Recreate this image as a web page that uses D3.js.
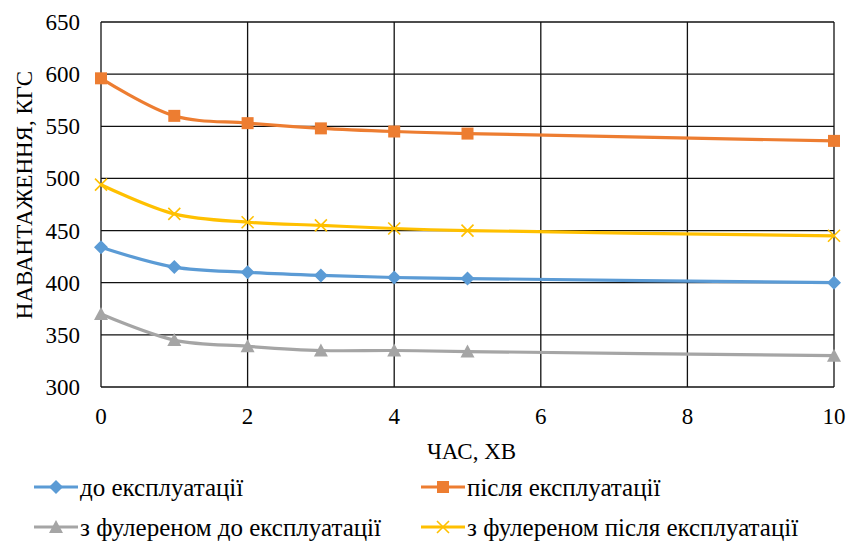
<!DOCTYPE html>
<html>
<head>
<meta charset="utf-8">
<script src="https://cdn.jsdelivr.net/npm/d3@7"></script>
</head>
<body style="margin:0">
<svg id="chart" width="852" height="542" style="font-family: 'Liberation Serif', serif"></svg>
<script>
// data
const times = [0, 1, 2, 3, 4, 5, 10];
const beforeUse = [434, 415, 410, 407, 405, 404, 400];
const afterUse = [596, 560, 553, 548, 545, 543, 536];
const fullBefore = [370, 345, 339, 335, 335, 334, 330];
const fullAfter = [494, 466, 458, 455, 452, 450, 445];
const xTicks = [0, 2, 4, 6, 8, 10];
const yTicks = [300, 350, 400, 450, 500, 550, 600, 650];

const series = [
  { name: "до експлуатації", values: beforeUse, color: "#5B9BD5", marker: "diamond" },
  { name: "після експлуатації", values: afterUse, color: "#ED7D31", marker: "square" },
  { name: "з фулереном до експлуатації", values: fullBefore, color: "#A5A5A5", marker: "triangle" },
  { name: "з фулереном після експлуатації", values: fullAfter, color: "#FFC000", marker: "cross" }
];

const FONT = "'Liberation Serif', serif";
const svg = d3.select("#chart");
const m = { left: 101, top: 22, right: 18, bottom: 155 };
const W = 852, H = 542;
const chartW = W - m.left - m.right, chartH = H - m.top - m.bottom;

const x = d3.scaleLinear().domain([0, 10]).range([0, chartW]);
const y = d3.scaleLinear().domain([300, 650]).range([chartH, 0]);

const g = svg.append("g").attr("transform", `translate(${m.left},${m.top})`);

// gridlines
g.append("g").selectAll("line").data(yTicks).enter().append("line")
  .attr("x1", 0).attr("x2", chartW).attr("y1", d => y(d)).attr("y2", d => y(d))
  .attr("stroke", "#111").attr("stroke-width", 1.3);
g.append("g").selectAll("line").data(xTicks).enter().append("line")
  .attr("y1", 0).attr("y2", chartH).attr("x1", d => x(d)).attr("x2", d => x(d))
  .attr("stroke", "#111").attr("stroke-width", 1.3);

// tick labels
g.append("g").selectAll("text").data(yTicks).enter().append("text")
  .attr("x", -21).attr("y", d => y(d)).attr("dy", "0.35em")
  .attr("text-anchor", "end").style("font-family", FONT).style("font-size", "23px").text(d => d);
g.append("g").selectAll("text").data(xTicks).enter().append("text")
  .attr("x", d => x(d)).attr("y", chartH + 37)
  .attr("text-anchor", "middle").style("font-family", FONT).style("font-size", "23px").text(d => d);

// axis titles
g.append("text").attr("x", chartW / 2 + 4).attr("y", chartH + 72)
  .attr("text-anchor", "middle").style("font-family", FONT).style("font-size", "23px").text("ЧАС, ХВ");
g.append("text").attr("transform", "rotate(-90)")
  .attr("x", -173).attr("y", -69).attr("text-anchor", "middle")
  .style("font-family", FONT).style("font-size", "23px").text("НАВАНТАЖЕННЯ, КГС");

function drawMarker(sel, type, color) {
  if (type === "diamond") {
    sel.append("path").attr("d", "M0,-7L7,0L0,7L-7,0Z").attr("fill", color);
  } else if (type === "square") {
    sel.append("rect").attr("x", -6).attr("y", -6).attr("width", 12).attr("height", 12).attr("fill", color);
  } else if (type === "triangle") {
    sel.append("path").attr("d", "M0,-7L7,6L-7,6Z").attr("fill", color);
  } else {
    sel.append("path").attr("d", "M-6,-6L6,6M-6,6L6,-6").attr("stroke", color)
      .attr("stroke-width", 1.6).attr("fill", "none");
  }
}

const line = d3.line().x((d, i) => x(times[i])).y(d => y(d)).curve(d3.curveCatmullRom.alpha(0.5));

series.forEach(s => {
  g.append("path").datum(s.values)
    .attr("fill", "none").attr("stroke", s.color).attr("stroke-width", 3.2)
    .attr("d", line);
  s.values.forEach((v, i) => {
    const mk = g.append("g").attr("transform", `translate(${x(times[i])},${y(v)})`);
    drawMarker(mk, s.marker, s.color);
  });
});

// legend
const legPos = [[34, 487], [421, 487], [34, 527], [421, 527]];
series.forEach((s, i) => {
  const lg = svg.append("g").attr("transform", `translate(${legPos[i][0]},${legPos[i][1]})`);
  lg.append("line").attr("x1", 0).attr("x2", 44).attr("y1", 0).attr("y2", 0)
    .attr("stroke", s.color).attr("stroke-width", 3.2);
  const mk = lg.append("g").attr("transform", "translate(22,0)");
  drawMarker(mk, s.marker, s.color);
  lg.append("text").attr("x", 46).attr("y", 8.5)
    .style("font-family", FONT).style("font-size", "25px").text(s.name);
});
</script>
</body>
</html>
